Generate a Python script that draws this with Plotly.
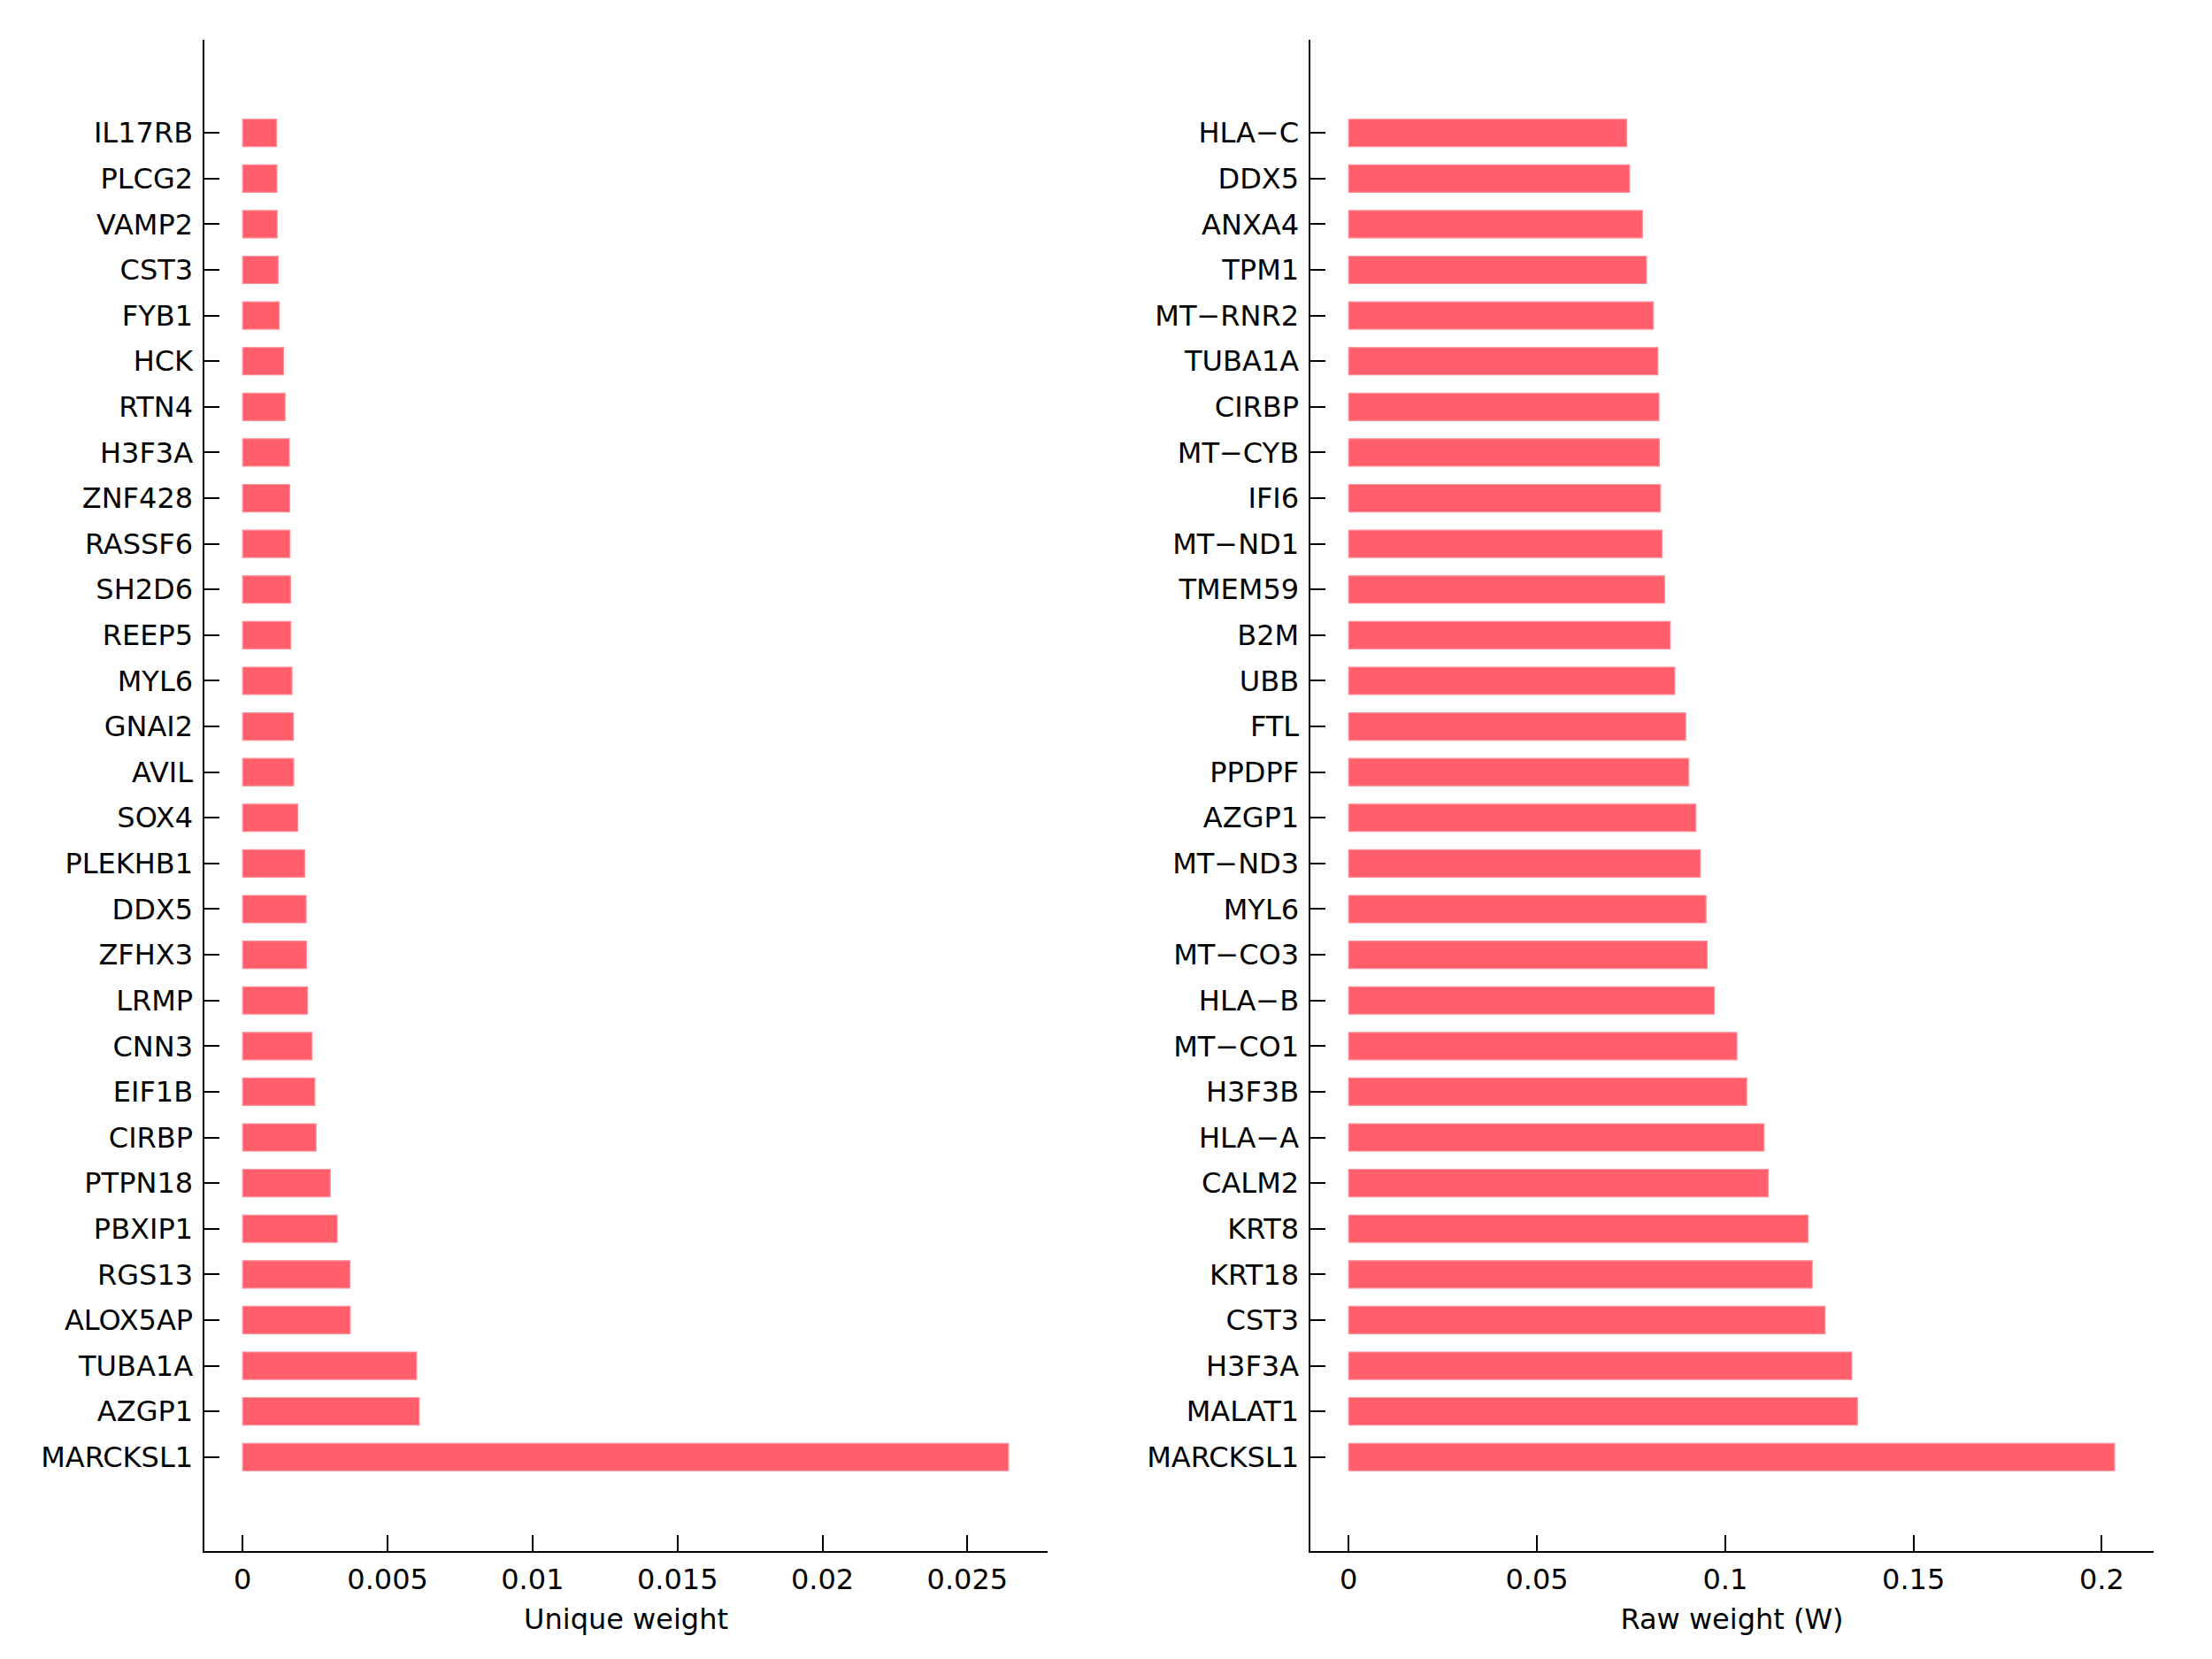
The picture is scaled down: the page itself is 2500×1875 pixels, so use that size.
import plotly.graph_objects as go

genes_unique = ["IL17RB", "PLCG2", "VAMP2", "CST3", "FYB1", "HCK", "RTN4", "H3F3A", "ZNF428", "RASSF6",
                "SH2D6", "REEP5", "MYL6", "GNAI2", "AVIL", "SOX4", "PLEKHB1", "DDX5", "ZFHX3", "LRMP",
                "CNN3", "EIF1B", "CIRBP", "PTPN18", "PBXIP1", "RGS13", "ALOX5AP", "TUBA1A", "AZGP1", "MARCKSL1"]
values_unique = [0.00117, 0.00118, 0.00119, 0.00122, 0.00126, 0.00141, 0.00146, 0.00161, 0.00162, 0.00163,
                 0.00165, 0.00166, 0.00170, 0.00175, 0.00176, 0.00190, 0.00214, 0.00219, 0.00220, 0.00224,
                 0.00239, 0.00249, 0.00253, 0.00302, 0.00326, 0.00370, 0.00371, 0.00600, 0.00609, 0.02642]

genes_raw = ["HLA\u2212C", "DDX5", "ANXA4", "TPM1", "MT\u2212RNR2", "TUBA1A", "CIRBP", "MT\u2212CYB", "IFI6", "MT\u2212ND1",
             "TMEM59", "B2M", "UBB", "FTL", "PPDPF", "AZGP1", "MT\u2212ND3", "MYL6", "MT\u2212CO3", "HLA\u2212B",
             "MT\u2212CO1", "H3F3B", "HLA\u2212A", "CALM2", "KRT8", "KRT18", "CST3", "H3F3A", "MALAT1", "MARCKSL1"]
values_raw = [0.0738, 0.0746, 0.0780, 0.0791, 0.0809, 0.0821, 0.0824, 0.0825, 0.0828, 0.0832,
              0.0839, 0.0854, 0.0866, 0.0895, 0.0903, 0.0922, 0.0934, 0.0949, 0.0952, 0.0971,
              0.1031, 0.1057, 0.1103, 0.1114, 0.1220, 0.1231, 0.1265, 0.1336, 0.1351, 0.2034]

ticks_unique = [0, 0.005, 0.01, 0.015, 0.02, 0.025]
ticklabels_unique = ["0", "0.005", "0.01", "0.015", "0.02", "0.025"]
ticks_raw = [0, 0.05, 0.1, 0.15, 0.2]
ticklabels_raw = ["0", "0.05", "0.1", "0.15", "0.2"]

BAR = "#FF5E6A"
EDGE = "#FF8F98"
FONT = dict(family="DejaVu Sans", size=32, color="black")

fig = go.Figure()
fig.add_trace(go.Bar(x=values_unique, y=list(range(len(genes_unique))), orientation="h",
                     marker=dict(color=BAR, line=dict(width=1.2, color=EDGE)), width=0.6,
                     xaxis="x", yaxis="y", showlegend=False))
fig.add_trace(go.Bar(x=values_raw, y=list(range(len(genes_raw))), orientation="h",
                     marker=dict(color=BAR, line=dict(width=1.2, color=EDGE)), width=0.6,
                     xaxis="x2", yaxis="y2", showlegend=False))

common_x = dict(showline=True, linecolor="black", linewidth=1.5, ticks="inside", ticklen=18,
                tickwidth=1.5, tickcolor="black", showgrid=False, zeroline=False,
                tickfont=FONT, ticklabelstandoff=3)
common_y = dict(showline=True, linecolor="black", linewidth=1.5, ticks="inside", ticklen=17,
                tickwidth=1.5, tickcolor="black", showgrid=False, zeroline=False,
                tickfont=FONT, tickmode="array", tickvals=list(range(30)),
                range=[31.06, -2.04], ticklabelstandoff=5)

fig.update_layout(
    width=2500, height=1875,
    margin=dict(l=0, r=0, t=0, b=0),
    paper_bgcolor="white", plot_bgcolor="white",
    xaxis=dict(domain=[0.0893, 0.4703], range=[-0.001313, 0.02776], tickvals=ticks_unique,
               ticktext=ticklabels_unique, anchor="y",
               title=dict(text="Unique weight", font=FONT, standoff=15), **common_x),
    yaxis=dict(domain=[0.0693, 0.9803], ticktext=genes_unique, anchor="x", **common_y),
    xaxis2=dict(domain=[0.5893, 0.9703], range=[-0.01011, 0.2137], tickvals=ticks_raw,
                ticktext=ticklabels_raw, anchor="y2",
                title=dict(text="Raw weight (W)", font=FONT, standoff=15), **common_x),
    yaxis2=dict(domain=[0.0693, 0.9803], ticktext=genes_raw, anchor="x2", **common_y),
)

fig.write_html("out.html")
